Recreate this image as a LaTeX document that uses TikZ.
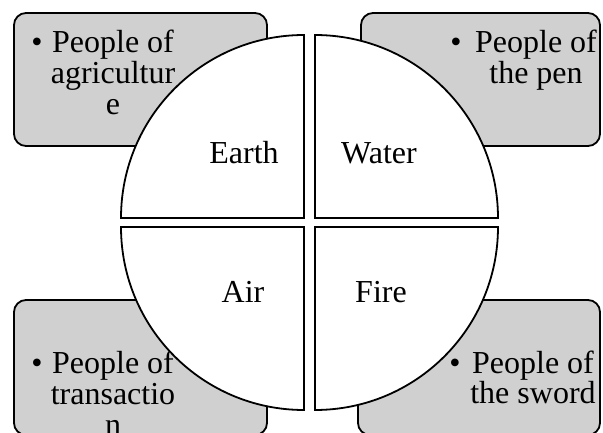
\documentclass[tikz,border=0pt]{standalone}
\usepackage{fontspec}
\setmainfont{Liberation Serif}
\definecolor{boxgray}{RGB}{208,208,208}
\begin{document}
\begin{tikzpicture}[x=1pt,y=1pt,
  card/.style={draw=black,line width=1.8pt,fill=boxgray,rounded corners=12pt},
  quad/.style={draw=black,line width=1.8pt,fill=white},
  txt/.style={font=\fontsize{32}{33}\selectfont,inner sep=0pt,anchor=base}]
\clip (0,0) rectangle (603,432);
% grey cards
\draw[card] (14,286) rectangle (267,419);
\draw[card] (361,286) rectangle (600,419);
\draw[card] (14,-3) rectangle (267,132);
\draw[card] (358,-3) rectangle (600,132);
% card texts
\node[txt] (b1) at (37,379) {\textbullet};
\node[txt] (t1a) at (113,379) {People of};
\node[txt] (t1b) at (113,348) {agricultur};
\node[txt] (t1c) at (113,317) {e};
\node[txt] (b2) at (456,379) {\textbullet};
\node[txt] (t2a) at (536,379) {People of};
\node[txt] (t2b) at (536,348) {the pen};
\node[txt] (b3) at (37,59) {\textbullet};
\node[txt] (t3a) at (113,59) {People of};
\node[txt] (t3b) at (113,28) {transactio};
\node[txt] (t3c) at (113,-3) {n};
\node[txt] (b4) at (455,59) {\textbullet};
\node[txt] (t4a) at (533,59) {People of};
\node[txt] (t4b) at (533,29) {the sword};
% quadrants
\draw[quad] (304,214) -- (121,214) arc[start angle=180,end angle=90,radius=183] -- cycle;
\draw[quad] (315,214) -- (315,397) arc[start angle=90,end angle=0,radius=183] -- cycle;
\draw[quad] (304,205) -- (121,205) arc[start angle=180,end angle=270,radius=183] -- cycle;
\draw[quad] (315,205) -- (498,205) arc[start angle=0,end angle=-90,radius=183] -- cycle;
% labels
\node[txt] (earth) at (244,268) {Earth};
\node[txt] (water) at (379,268) {Water};
\node[txt] (air) at (243,130) {Air};
\node[txt] (fire) at (381,130) {Fire};
\end{tikzpicture}
\end{document}
